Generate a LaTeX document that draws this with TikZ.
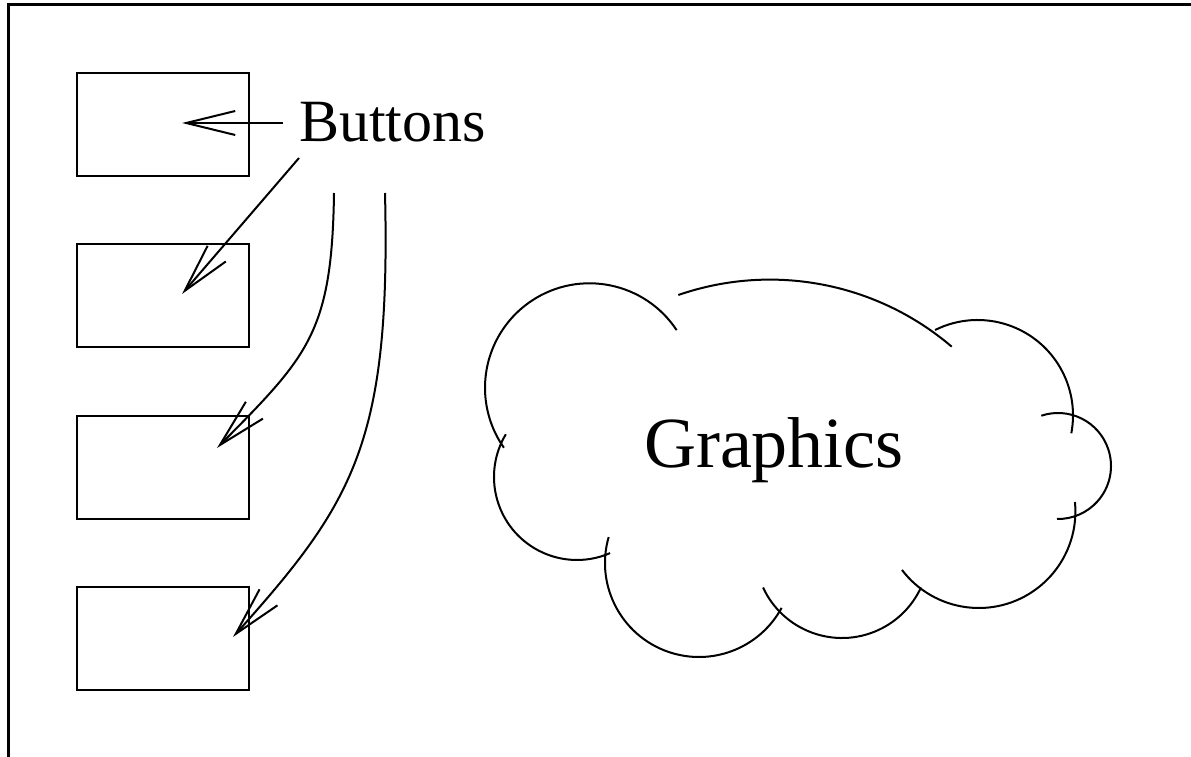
\documentclass[tikz,border=0pt]{standalone}
\usepackage{fontspec}
\setmainfont{Liberation Serif}
\usetikzlibrary{arrows.meta}
\begin{document}
\begin{tikzpicture}[x=1pt,y=1pt,
  frame/.style={line width=2.7pt},
  buttonbox/.style={draw,line width=2.5pt,rectangle,inner sep=0pt,
    minimum width=172pt,minimum height=103pt},
  pointer/.style={line width=2pt,
    -{Straight Barb[length=49pt,width=24pt,line width=2pt]}},
  puff/.style={line width=2pt},
  label/.style={inner sep=0pt}]
\useasboundingbox (0,0) rectangle (1191,756);
\clip (0,0) rectangle (1191,756);

% window frame (open on the right and bottom)
\draw[frame] (8.7,-20) rectangle (1220,751.3);

% button column
\node[buttonbox] (b1) at (163,631.5) {};
\node[buttonbox] (b2) at (163,460.5) {};
\node[buttonbox] (b3) at (163,288.5) {};
\node[buttonbox] (b4) at (163,117.5) {};

% labels
\node[label,anchor=base west] (btn) at (299,614)
  {\fontsize{60}{72}\selectfont Buttons};
\node[label,anchor=base] (gfx) at (774,289)
  {\fontsize{72}{86}\selectfont Graphics};

% arrow end points
\coordinate (s1) at ([shift={(-16,19)}]btn.base west);
\coordinate (s2) at ([shift={(0,-16)}]btn.base west);
\coordinate (s3) at ([shift={(35,-51)}]btn.base west);
\coordinate (s4) at ([shift={(86,-51)}]btn.base west);
\coordinate (t1) at ([shift={(19,1.5)}]b1.center);
\coordinate (t2) at ([shift={(19,1.5)}]b2.center);
\coordinate (t3) at ([shift={(54,19.5)}]b3.center);
\coordinate (t4) at ([shift={(70,1.5)}]b4.center);

\draw[pointer] (s1) -- (t1);
\draw[pointer] (s2) -- (t2);
\draw[pointer] (s3) .. controls ([shift={(-2,-140)}]s3) and ([shift={(91,92)}]t3) .. (t3);
\draw[pointer] (s4) .. controls ([shift={(6,-250)}]s4) and ([shift={(120,134)}]t4) .. (t4);

% cloud outline built from overlapping arcs
\draw[puff] (589.5,368.2) ++(33.5:104.5) arc[start angle=33.5,end angle=215,radius=104.5];
\draw[puff] (577,279) ++(149:83) arc[start angle=149,end angle=293.5,radius=83];
\draw[puff] (699,193) ++(164:94) arc[start angle=164,end angle=331.5,radius=94];
\draw[puff] (842,205) ++(204.8:87) arc[start angle=204.8,end angle=335.2,radius=87];
\draw[puff] (978.8,244.6) ++(217.3:96.6) arc[start angle=217.3,end angle=365.6,radius=96.6];
\draw[puff] (1058,290) ++(108.4:53) arc[start angle=108.4,end angle=-91.1,radius=53];
\draw[puff] (977.6,340.6) ++(116.5:95.4) arc[start angle=116.5,end angle=-10.8,radius=95.4];
\draw[puff] (769.9,196.4) ++(109.1:280) arc[start angle=109.1,end angle=49.5,radius=280];
\end{tikzpicture}
\end{document}
